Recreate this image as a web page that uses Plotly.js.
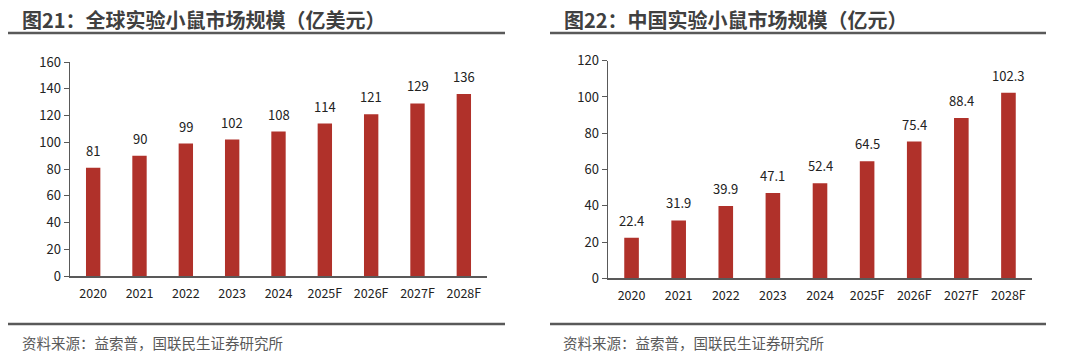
<!DOCTYPE html>
<html><head><meta charset="utf-8">
<script src="https://cdn.plot.ly/plotly-3.0.1.min.js"></script>
<style>html,body{margin:0;padding:0;background:#fff}#c{width:1080px;height:360px}</style>
</head><body><div id="c"></div>
<script>
const years = ["2020","2021","2022","2023","2024","2025F","2026F","2027F","2028F"];
const globalValues = [81, 90, 99, 102, 108, 114, 121, 129, 136];
const chinaValues = [22.4, 31.9, 39.9, 47.1, 52.4, 64.5, 75.4, 88.4, 102.3];
const globalLabels = ["81","90","99","102","108","114","121","129","136"];
const chinaLabels = ["22.4","31.9","39.9","47.1","52.4","64.5","75.4","88.4","102.3"];
const title1 = "图21：全球实验小鼠市场规模（亿美元）";
const title2 = "图22：中国实验小鼠市场规模（亿元）";
const source = "资料来源：益索普，国联民生证券研究所";

const FONT = '"Microsoft YaHei","Noto Sans CJK SC","Noto Sans",sans-serif';
const BAR = '#B0312A';
const W = 1080, H = 360;
const px = x => x / W, py = y => (H - y) / H;

const traces = [
  {type:'bar', x:years, y:globalValues, marker:{color:BAR}, xaxis:'x', yaxis:'y', hoverinfo:'none'},
  {type:'bar', x:years, y:chinaValues, marker:{color:BAR}, xaxis:'x2', yaxis:'y2', hoverinfo:'none'}
];

const xa = {type:'category', categoryorder:'array', categoryarray:years, range:[-0.5, years.length - 0.5],
  showgrid:false, zeroline:false, showline:true, linecolor:'#595959', linewidth:1.5,
  ticks:'', ticklabelstandoff:5, tickfont:{size:12.5, color:'#222', family:FONT}, fixedrange:true};
const ya = {showgrid:false, zeroline:false, showline:true, linecolor:'#595959', linewidth:1.5,
  ticks:'outside', ticklen:5, tickcolor:'#595959', tickwidth:1, tickfont:{size:13, color:'#222', family:FONT}, fixedrange:true};

const valueAnns = [];
years.forEach((c, i) => {
  valueAnns.push({text:globalLabels[i], x:i, y:globalValues[i], xref:'x', yref:'y', xanchor:'center', yanchor:'bottom',
    yshift:6, showarrow:false, font:{size:13, color:'#222', family:FONT}});
  valueAnns.push({text:chinaLabels[i], x:i, y:chinaValues[i], xref:'x2', yref:'y2', xanchor:'center', yanchor:'bottom',
    yshift:6, showarrow:false, font:{size:13, color:'#222', family:FONT}});
});

const layout = {
  width:W, height:H, margin:{l:0,r:0,t:0,b:0}, showlegend:false,
  paper_bgcolor:'#fff', plot_bgcolor:'rgba(0,0,0,0)', bargap:0.69,
  font:{family:FONT},
  xaxis:Object.assign({}, xa, {domain:[px(70), px(487)], anchor:'y'}),
  yaxis:Object.assign({}, ya, {domain:[py(276), py(62)], range:[0,160], dtick:20, anchor:'x'}),
  xaxis2:Object.assign({}, xa, {domain:[px(608), px(1032)], anchor:'y2'}),
  yaxis2:Object.assign({}, ya, {domain:[py(278.3), py(60.7)], range:[0,120], dtick:20, anchor:'x2'}),
  shapes:[
    {type:'line', xref:'paper', yref:'paper', x0:px(8), x1:px(505), y0:py(33), y1:py(33), line:{color:'#595959', width:2.5}},
    {type:'line', xref:'paper', yref:'paper', x0:px(550), x1:px(1046), y0:py(33), y1:py(33), line:{color:'#595959', width:2.5}},
    {type:'line', xref:'paper', yref:'paper', x0:px(8), x1:px(505), y0:py(324), y1:py(324), line:{color:'#595959', width:2.5}},
    {type:'line', xref:'paper', yref:'paper', x0:px(550), x1:px(1046), y0:py(324), y1:py(324), line:{color:'#595959', width:2.5}}
  ],
  annotations:[
    {text:'<b>'+title1+'</b>', xref:'paper', yref:'paper', x:px(20), y:py(19), xanchor:'left', yanchor:'middle', showarrow:false,
     font:{size:20, color:'#404040', family:FONT}},
    {text:'<b>'+title2+'</b>', xref:'paper', yref:'paper', x:px(562), y:py(19), xanchor:'left', yanchor:'middle', showarrow:false,
     font:{size:20, color:'#404040', family:FONT}},
    {text:source, xref:'paper', yref:'paper', x:px(20), y:py(342), xanchor:'left', yanchor:'middle', showarrow:false,
     font:{size:14.5, color:'#595959', family:FONT}},
    {text:source, xref:'paper', yref:'paper', x:px(561), y:py(342), xanchor:'left', yanchor:'middle', showarrow:false,
     font:{size:14.5, color:'#595959', family:FONT}}
  ].concat(valueAnns)
};
Plotly.newPlot('c', traces, layout, {staticPlot:true, displayModeBar:false});
</script></body></html>
